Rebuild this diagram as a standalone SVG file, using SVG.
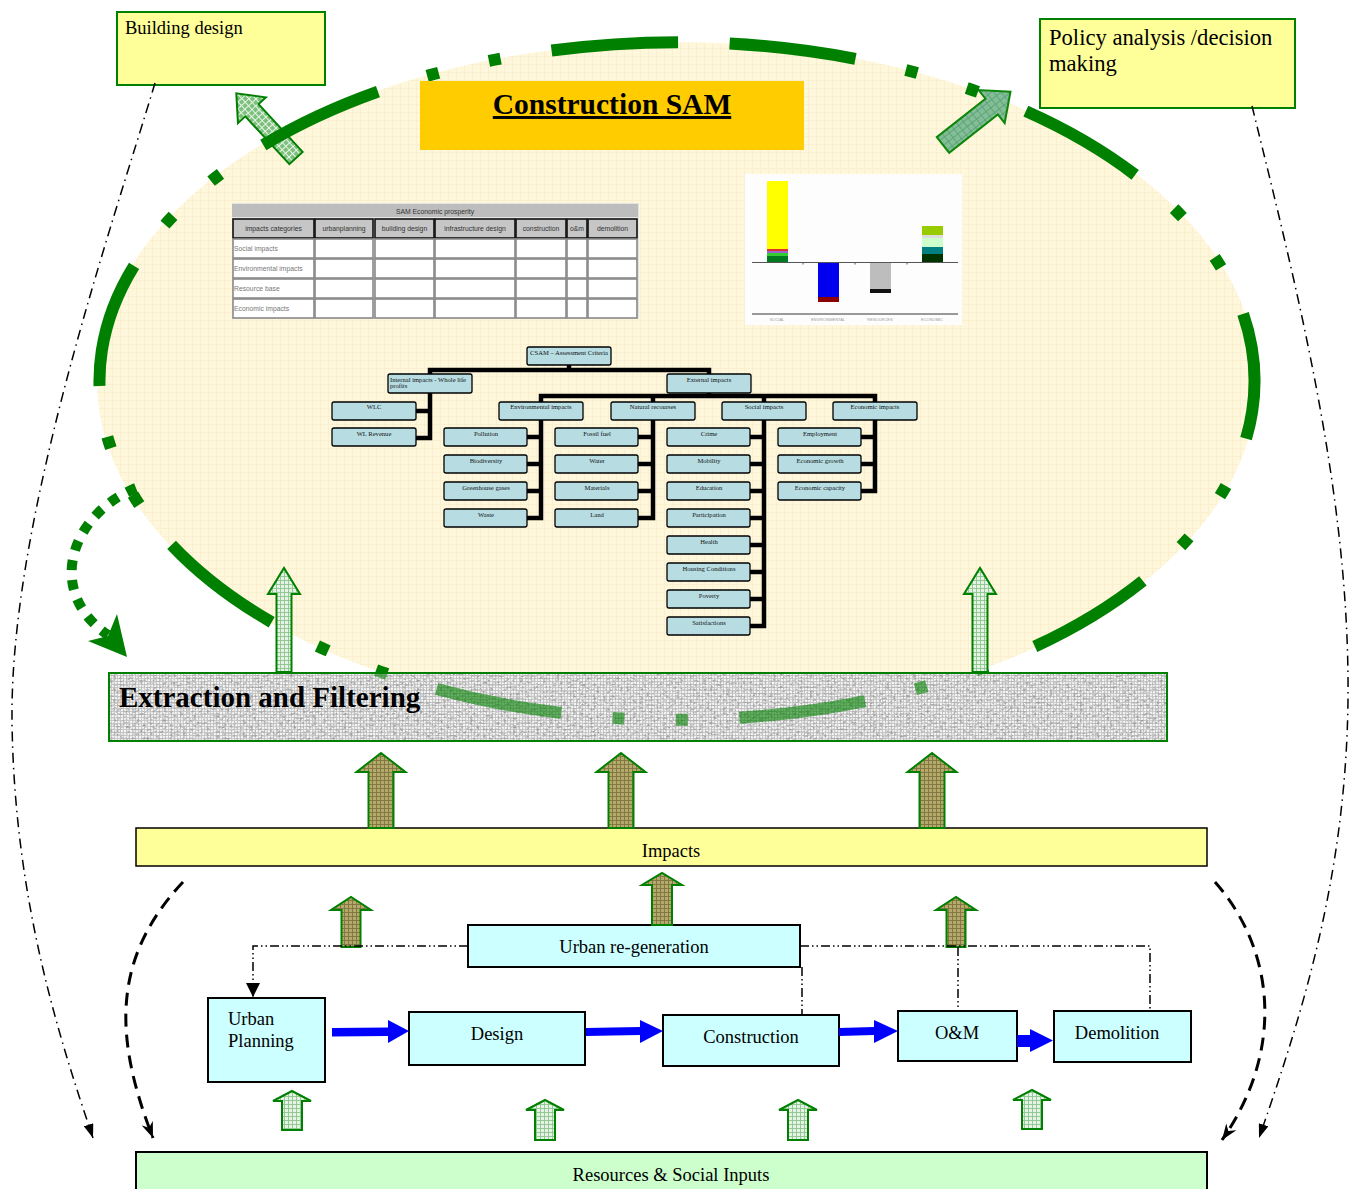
<svg xmlns="http://www.w3.org/2000/svg" width="1358" height="1189" viewBox="0 0 1358 1189">
  <defs>
    <style>
      .serif { font-family: "Liberation Serif", "Times New Roman", serif; fill: #000; }
      .sans { font-family: "Liberation Sans", Arial, sans-serif; }
      .note { fill: #ffff99; stroke: #008000; stroke-width: 2; }
      .proc { fill: #ccffff; stroke: #000; stroke-width: 2; }
      .lbl { font-size: 18.5px; }
      .tn { fill: #b7dde3; stroke: #000; stroke-width: 1.3; }
      .tt { font-family: "Liberation Serif", "Times New Roman", serif; font-size: 6.6px; text-anchor: middle; fill: #111; }
      .tt.left { text-anchor: start; }
      .tlink { fill: none; stroke: #000; stroke-width: 4.5; stroke-linejoin: miter; stroke-linecap: square; }
      .th { fill: #c6c6c6; stroke: #111; stroke-width: 1.6; }
      .td { fill: #fff; stroke: #8a8a8a; stroke-width: 1.6; }
      .tht { font-family: "Liberation Sans", Arial, sans-serif; font-size: 6.8px; fill: #333; text-anchor: middle; }
      .tdt { font-family: "Liberation Sans", Arial, sans-serif; font-size: 6.8px; fill: #777; }
      .ring { fill: none; stroke: #008000; stroke-width: 12; stroke-dasharray: 128 52 12 52 12 52; }
      .up-olive { fill: url(#hatchOlive); stroke: #008000; stroke-width: 2; }
      .up-light { fill: url(#hatchLight); stroke: #008000; stroke-width: 2; }
      .blue { fill: #0000ff; }
      .dd { fill: none; stroke: #000; stroke-width: 1.5; stroke-dasharray: 9 3 1.5 3 1.5 3; }
      .ddlong { fill: none; stroke: #000; stroke-width: 1.5; stroke-dasharray: 10 5 1.5 5; }
      .dash { fill: none; stroke: #000; stroke-width: 3; stroke-dasharray: 13 8; }
    </style>
    <pattern id="creamGrid" width="8" height="8" patternUnits="userSpaceOnUse">
      <rect width="8" height="8" fill="#fff7dc"/>
      <path d="M0 0.5H8M0.5 0V8" stroke="#faefcf" stroke-width="1"/>
    </pattern>
    <pattern id="bandWeave" width="3" height="3" patternUnits="userSpaceOnUse">
      <rect width="3" height="3" fill="#f4f4f4"/>
      <path d="M0 0.5H3M0.5 0V3" stroke="#c2c2c2" stroke-width="0.8"/>
    </pattern>
    <pattern id="hatchLight" width="4" height="4" patternUnits="userSpaceOnUse">
      <rect width="4" height="4" fill="#e6f2e6"/>
      <path d="M0 0.5H4M0.5 0V4" stroke="#8cc48c" stroke-width="0.9"/>
    </pattern>
    <pattern id="hatchMid" width="5" height="5" patternUnits="userSpaceOnUse">
      <rect width="5" height="5" fill="#7cc07c"/>
      <path d="M0 0.5H5M0.5 0V5" stroke="#e8f4e8" stroke-width="1"/>
    </pattern>
    <pattern id="hatchTeal" width="6" height="6" patternUnits="userSpaceOnUse">
      <rect width="6" height="6" fill="#7dbb94"/>
      <path d="M0 0.5H6M0.5 0V6" stroke="#4f9a6e" stroke-width="0.8"/>
    </pattern>
    <pattern id="hatchOlive" width="4" height="4" patternUnits="userSpaceOnUse">
      <rect width="4" height="4" fill="#b5aa6c"/>
      <path d="M0 0.5H4M0.5 0V4" stroke="#7d7440" stroke-width="0.9"/>
    </pattern>
    <filter id="grain" x="0" y="0" width="100%" height="100%">
      <feTurbulence type="fractalNoise" baseFrequency="0.3 0.45" numOctaves="3" seed="7"/>
      <feColorMatrix type="matrix" values="0 0 0 0 0.25  0 0 0 0 0.25  0 0 0 0 0.25  0 0 0 -2.4 1.3"/>
    </filter>
    <clipPath id="bandClip">
      <rect x="109" y="673" width="1058" height="68"/>
    </clipPath>
    <marker id="headSolid" viewBox="0 0 14 10" refX="14" refY="5" markerWidth="14" markerHeight="10" markerUnits="userSpaceOnUse" orient="auto">
      <path d="M0 0L14 5L0 10z" fill="#000"/>
    </marker>
    <marker id="headStealth" viewBox="0 0 16 12" refX="16" refY="6" markerWidth="16" markerHeight="12" markerUnits="userSpaceOnUse" orient="auto">
      <path d="M0 0L16 6L0 12L5 6z" fill="#000"/>
    </marker>
    <marker id="headDown" viewBox="0 0 14 14" refX="14" refY="7" markerWidth="14" markerHeight="14" markerUnits="userSpaceOnUse" orient="auto">
      <path d="M0 0L14 7L0 14z" fill="#000"/>
    </marker>
  </defs>

  <rect width="1358" height="1189" fill="#fff"/>

  <!-- Construction SAM ellipse body -->
  <g id="sam-body">
    <ellipse cx="677" cy="381" rx="580" ry="339" fill="url(#creamGrid)"/>
  </g>

  <!-- SAM matrix table -->
  <g id="sam-table">
    <rect x="232" y="203" width="407" height="116" fill="#e4e4e4"/>
    <rect x="232" y="204" width="406" height="13" fill="#bdbdbd"/>
    <text class="tht" x="435" y="213.5">SAM Economic prosperity</text>
    <g>
      <rect class="th" x="233" y="219" width="81" height="19"/>
      <rect class="th" x="315" y="219" width="58" height="19"/>
      <rect class="th" x="375" y="219" width="59" height="19"/>
      <rect class="th" x="435" y="219" width="80" height="19"/>
      <rect class="th" x="516" y="219" width="50" height="19"/>
      <rect class="th" x="567" y="219" width="20" height="19"/>
      <rect class="th" x="588" y="219" width="49" height="19"/>
      <text class="tht" x="273.5" y="231">impacts categories</text>
      <text class="tht" x="344" y="231">urbanplanning</text>
      <text class="tht" x="404.5" y="231">building design</text>
      <text class="tht" x="475" y="231">infrastructure design</text>
      <text class="tht" x="541" y="231">construction</text>
      <text class="tht" x="577" y="231">o&amp;m</text>
      <text class="tht" x="612.5" y="231">demolition</text>
    </g>
    <g>
      <rect class="td" x="233" y="239" width="81" height="19"/><rect class="td" x="315" y="239" width="58" height="19"/><rect class="td" x="375" y="239" width="59" height="19"/><rect class="td" x="435" y="239" width="80" height="19"/><rect class="td" x="516" y="239" width="50" height="19"/><rect class="td" x="567" y="239" width="20" height="19"/><rect class="td" x="588" y="239" width="49" height="19"/>
      <rect class="td" x="233" y="259" width="81" height="19"/><rect class="td" x="315" y="259" width="58" height="19"/><rect class="td" x="375" y="259" width="59" height="19"/><rect class="td" x="435" y="259" width="80" height="19"/><rect class="td" x="516" y="259" width="50" height="19"/><rect class="td" x="567" y="259" width="20" height="19"/><rect class="td" x="588" y="259" width="49" height="19"/>
      <rect class="td" x="233" y="279" width="81" height="19"/><rect class="td" x="315" y="279" width="58" height="19"/><rect class="td" x="375" y="279" width="59" height="19"/><rect class="td" x="435" y="279" width="80" height="19"/><rect class="td" x="516" y="279" width="50" height="19"/><rect class="td" x="567" y="279" width="20" height="19"/><rect class="td" x="588" y="279" width="49" height="19"/>
      <rect class="td" x="233" y="299" width="81" height="19"/><rect class="td" x="315" y="299" width="58" height="19"/><rect class="td" x="375" y="299" width="59" height="19"/><rect class="td" x="435" y="299" width="80" height="19"/><rect class="td" x="516" y="299" width="50" height="19"/><rect class="td" x="567" y="299" width="20" height="19"/><rect class="td" x="588" y="299" width="49" height="19"/>
      <text class="tdt" x="234" y="251">Social impacts</text>
      <text class="tdt" x="234" y="271">Environmental impacts</text>
      <text class="tdt" x="234" y="291">Resource base</text>
      <text class="tdt" x="234" y="311">Economic impacts</text>
    </g>
  </g>

  <!-- SAM impact bar chart -->
  <g id="sam-chart">
    <rect x="745" y="174" width="217" height="151" fill="#fdfdfd"/>
    <rect x="767" y="181" width="21" height="68" fill="#ffff00"/>
    <rect x="767" y="249" width="21" height="2" fill="#e03030"/>
    <rect x="767" y="251" width="21" height="2" fill="#9966cc"/>
    <rect x="767" y="253" width="21" height="3" fill="#33cc33"/>
    <rect x="767" y="256" width="21" height="6" fill="#007a1f"/>
    <rect x="818" y="262" width="21" height="35" fill="#0000ee"/>
    <rect x="818" y="297" width="21" height="5" fill="#8b0000"/>
    <rect x="870" y="262" width="21" height="27" fill="#bdbdbd"/>
    <rect x="870" y="289" width="21" height="4" fill="#111"/>
    <rect x="922" y="226" width="21" height="9" fill="#99cc00"/>
    <rect x="922" y="235" width="21" height="3" fill="#dddddd"/>
    <rect x="922" y="238" width="21" height="9" fill="#ccffcc"/>
    <rect x="922" y="247" width="21" height="7" fill="#008080"/>
    <rect x="922" y="254" width="21" height="8" fill="#003300"/>
    <path d="M752 262.5H958M803 262.5v2M855 262.5v2M907 262.5v2" stroke="#555" stroke-width="1" fill="none"/>
    <path d="M752 314H958" stroke="#999" stroke-width="2"/>
    <g class="sans" font-size="4" fill="#999" text-anchor="middle">
      <text x="777" y="321">SOCIAL</text>
      <text x="828" y="321">ENVIRONMENTAL</text>
      <text x="880" y="321">RESOURCES</text>
      <text x="932" y="321">ECONOMIC</text>
    </g>
  </g>

  <!-- Assessment criteria hierarchy: links -->
  <g id="tree-links">
    <path class="tlink" d="M430 374V370H709V374M569 365V370"/>
    <path class="tlink" d="M430 393V438H416M430 411H416"/>
    <path class="tlink" d="M709 393V396M541 402V396H875V402M653 396V402M764 396V402"/>
    <path class="tlink" d="M541 420V518H527M541 437H527M541 464H527M541 491H527"/>
    <path class="tlink" d="M653 420V518H638M653 437H638M653 464H638M653 491H638"/>
    <path class="tlink" d="M764 420V626H750M764 437H750M764 464H750M764 491H750M764 518H750M764 545H750M764 572H750M764 599H750"/>
    <path class="tlink" d="M875 420V491H861M875 437H861M875 464H861"/>
  </g>

  <!-- Assessment criteria hierarchy: nodes -->
  <g id="criteria-tree">
    <g id="t-csam"><rect class="tn" x="527" y="347" width="84" height="18" rx="2"/><text class="tt" x="569" y="355">CSAM – Assessment Criteria</text></g>
    <g id="t-internal"><rect class="tn" x="388" y="374" width="84" height="19" rx="2"/><text class="tt left" x="390" y="382">Internal impacts - Whole life</text><text class="tt left" x="390" y="388">profits</text></g>
    <g id="t-external"><rect class="tn" x="667" y="374" width="84" height="19" rx="2"/><text class="tt" x="709" y="382">External impacts</text></g>
    <g id="t-wlc"><rect class="tn" x="332" y="402" width="84" height="18" rx="2"/><text class="tt" x="374" y="409">WLC</text></g>
    <g id="t-wlrev"><rect class="tn" x="332" y="428" width="84" height="18" rx="2"/><text class="tt" x="374" y="436">WL Revenue</text></g>
    <g id="t-env"><rect class="tn" x="499" y="402" width="84" height="18" rx="2"/><text class="tt" x="541" y="409">Environmental impacts</text></g>
    <g id="t-nat"><rect class="tn" x="611" y="402" width="84" height="18" rx="2"/><text class="tt" x="653" y="409">Natural recourses</text></g>
    <g id="t-soc"><rect class="tn" x="722" y="402" width="84" height="18" rx="2"/><text class="tt" x="764" y="409">Social impacts</text></g>
    <g id="t-eco"><rect class="tn" x="833" y="402" width="84" height="18" rx="2"/><text class="tt" x="875" y="409">Economic impacts</text></g>

    <g id="t-pollution"><rect class="tn" x="444" y="428" width="83" height="18" rx="2"/><text class="tt" x="486" y="436">Pollution</text></g>
    <g id="t-biodiversity"><rect class="tn" x="444" y="455" width="83" height="18" rx="2"/><text class="tt" x="486" y="463">Biodiversity</text></g>
    <g id="t-ghg"><rect class="tn" x="444" y="482" width="83" height="18" rx="2"/><text class="tt" x="486" y="490">Greenhouse gases</text></g>
    <g id="t-waste"><rect class="tn" x="444" y="509" width="83" height="18" rx="2"/><text class="tt" x="486" y="517">Waste</text></g>

    <g id="t-fossil"><rect class="tn" x="555" y="428" width="83" height="18" rx="2"/><text class="tt" x="597" y="436">Fossil fuel</text></g>
    <g id="t-water"><rect class="tn" x="555" y="455" width="83" height="18" rx="2"/><text class="tt" x="597" y="463">Water</text></g>
    <g id="t-materials"><rect class="tn" x="555" y="482" width="83" height="18" rx="2"/><text class="tt" x="597" y="490">Materials</text></g>
    <g id="t-land"><rect class="tn" x="555" y="509" width="83" height="18" rx="2"/><text class="tt" x="597" y="517">Land</text></g>

    <g id="t-crime"><rect class="tn" x="667" y="428" width="83" height="18" rx="2"/><text class="tt" x="709" y="436">Crime</text></g>
    <g id="t-mobility"><rect class="tn" x="667" y="455" width="83" height="18" rx="2"/><text class="tt" x="709" y="463">Mobility</text></g>
    <g id="t-education"><rect class="tn" x="667" y="482" width="83" height="18" rx="2"/><text class="tt" x="709" y="490">Education</text></g>
    <g id="t-participation"><rect class="tn" x="667" y="509" width="83" height="18" rx="2"/><text class="tt" x="709" y="517">Participation</text></g>
    <g id="t-health"><rect class="tn" x="667" y="536" width="83" height="18" rx="2"/><text class="tt" x="709" y="544">Health</text></g>
    <g id="t-housing"><rect class="tn" x="667" y="563" width="83" height="18" rx="2"/><text class="tt" x="709" y="571">Housing Conditions</text></g>
    <g id="t-poverty"><rect class="tn" x="667" y="590" width="83" height="18" rx="2"/><text class="tt" x="709" y="598">Poverty</text></g>
    <g id="t-satisfactions"><rect class="tn" x="667" y="617" width="83" height="18" rx="2"/><text class="tt" x="709" y="625">Satisfactions</text></g>

    <g id="t-employment"><rect class="tn" x="778" y="428" width="83" height="18" rx="2"/><text class="tt" x="820" y="436">Employment</text></g>
    <g id="t-growth"><rect class="tn" x="778" y="455" width="83" height="18" rx="2"/><text class="tt" x="820" y="463">Economic growth</text></g>
    <g id="t-capacity"><rect class="tn" x="778" y="482" width="83" height="18" rx="2"/><text class="tt" x="820" y="490">Economic capacity</text></g>
  </g>

  <!-- arrow out to building design (sits under the ring) -->
  <g id="out-building">
    <polygon points="0,-9 65,-9 65,-19 88,0 65,19 65,9 0,9" transform="translate(296,158) rotate(-132.7)" fill="url(#hatchMid)" stroke="#008000" stroke-width="2"/>
  </g>

  <!-- dash-dot-dot ring of the SAM -->
  <g id="sam-ring">
    <path class="ring" pathLength="2952" d="M729.6 43.4A580 339 0 0 1 624.4 718.6A580 339 0 0 1 729.6 43.4Z"/>
  </g>

  <!-- SAM title -->
  <g id="sam-title">
    <rect x="420" y="81" width="384" height="69" fill="#ffcc00"/>
    <text class="serif" x="612" y="114" font-size="29.5" font-weight="bold" text-anchor="middle" text-decoration="underline">Construction SAM</text>
  </g>

  <!-- Extraction and filtering band -->
  <g id="extraction">
    <rect x="109" y="673" width="1058" height="68" fill="url(#bandWeave)"/>
    <rect x="109" y="673" width="1058" height="68" filter="url(#grain)" opacity="0.8"/>
    <path class="ring" pathLength="2952" clip-path="url(#bandClip)" opacity="0.6" d="M729.6 43.4A580 339 0 0 1 624.4 718.6A580 339 0 0 1 729.6 43.4Z"/>
    <rect x="109" y="673" width="1058" height="68" fill="none" stroke="#008000" stroke-width="2"/>
    <text class="serif" x="119" y="707" font-size="29" font-weight="bold">Extraction and Filtering</text>
  </g>

  <!-- arrow out to policy analysis -->
  <g id="out-policy">
    <polygon points="0,-10 62,-10 62,-21 86,0 62,21 62,10 0,10" transform="translate(943,145) rotate(-38.3)" fill="url(#hatchTeal)" stroke="#008000" stroke-width="2" opacity="0.95"/>
  </g>

  <!-- arrows from extraction into the SAM -->
  <g id="feed-sam">
    <polygon points="276.5,672 276.5,594 268,594 284,568 300,594 291.5,594 291.5,672" class="up-light"/>
    <polygon points="972.5,672 972.5,594 964,594 980,568 996,594 987.5,594 987.5,672" class="up-light"/>
  </g>

  <!-- Building design -->
  <g id="building-design">
    <rect class="note" x="117" y="12" width="208" height="73"/>
    <text class="serif" x="125" y="34" font-size="18.5">Building design</text>
  </g>

  <!-- Policy analysis / decision making -->
  <g id="policy">
    <rect class="note" x="1040" y="19" width="255" height="89"/>
    <text class="serif" x="1049" y="45" font-size="22.6">Policy analysis /decision</text>
    <text class="serif" x="1049" y="71" font-size="22.6">making</text>
  </g>

  <!-- Impacts -->
  <g id="impacts">
    <rect x="136" y="828" width="1071" height="38" fill="#ffff99" stroke="#000" stroke-width="1.5"/>
    <text class="serif lbl" x="671" y="857" text-anchor="middle">Impacts</text>
  </g>

  <!-- Urban re-generation -->
  <g id="regeneration">
    <rect class="proc" x="468" y="925" width="332" height="42" stroke-width="1.5"/>
    <text class="serif lbl" x="634" y="953" text-anchor="middle">Urban re-generation</text>
  </g>

  <!-- Life-cycle stages -->
  <g id="urban-planning">
    <rect class="proc" x="208" y="998" width="117" height="84"/>
    <text class="serif lbl" x="228" y="1025">Urban</text>
    <text class="serif lbl" x="228" y="1047">Planning</text>
  </g>
  <g id="design">
    <rect class="proc" x="409" y="1012" width="176" height="53"/>
    <text class="serif lbl" x="497" y="1040" text-anchor="middle">Design</text>
  </g>
  <g id="construction">
    <rect class="proc" x="663" y="1015" width="176" height="51"/>
    <text class="serif lbl" x="751" y="1043" text-anchor="middle">Construction</text>
  </g>
  <g id="om">
    <rect class="proc" x="898" y="1011" width="119" height="50"/>
    <text class="serif lbl" x="957" y="1039" text-anchor="middle">O&amp;M</text>
  </g>
  <g id="demolition">
    <rect class="proc" x="1054" y="1011" width="137" height="51"/>
    <text class="serif lbl" x="1117" y="1039" text-anchor="middle">Demolition</text>
  </g>

  <!-- Resources & Social Inputs -->
  <g id="resources">
    <rect x="136" y="1152" width="1071" height="45" fill="#ccffcc" stroke="#000" stroke-width="2"/>
    <text class="serif lbl" x="671" y="1181" text-anchor="middle">Resources &amp; Social Inputs</text>
  </g>

  <!-- connectors -->
  <g id="connectors">
    <!-- impacts feeding extraction -->
    <polygon class="up-olive" points="368.5,828 368.5,772 356.5,772 381,753 405.5,772 393.5,772 393.5,828"/>
    <polygon class="up-olive" points="608.5,828 608.5,772 596.5,772 621,753 645.5,772 633.5,772 633.5,828"/>
    <polygon class="up-olive" points="919.5,828 919.5,772 907.5,772 932,753 956.5,772 944.5,772 944.5,828"/>

    <!-- process stages feeding impacts -->
    <polygon class="up-olive" points="341.5,947 341.5,910 331,910 351,897 371,910 360.5,910 360.5,947"/>
    <polygon class="up-olive" points="652,925 652,885 642,885 662,873 682,885 672,885 672,925"/>
    <polygon class="up-olive" points="946.5,947 946.5,910 936,910 956,897 976,910 965.5,910 965.5,947"/>

    <!-- resources feeding stages -->
    <polygon class="up-light" points="282,1130 282,1101 273,1101 292,1091 311,1101 302,1101 302,1130"/>
    <polygon class="up-light" points="535,1140 535,1110 526,1110 545,1100 564,1110 555,1110 555,1140"/>
    <polygon class="up-light" points="788,1140 788,1110 779,1110 798,1100 817,1110 808,1110 808,1140"/>
    <polygon class="up-light" points="1022,1129 1022,1100 1013,1100 1032,1090 1051,1100 1042,1100 1042,1129"/>

    <!-- life-cycle sequence -->
    <polygon class="blue" points="332,1028 388,1027.5 388,1020 409,1031 388,1043 388,1036 332,1036.5"/>
    <polygon class="blue" points="586,1028 640,1027 640,1020 663,1031 640,1043 640,1035 586,1036"/>
    <polygon class="blue" points="839,1028 874,1027 874,1020 898,1031 874,1043 874,1035 839,1036"/>
    <polygon class="blue" points="1017,1035 1030,1035 1030,1029 1053,1040.5 1030,1052 1030,1047 1017,1047"/>

    <!-- regeneration links -->
    <path class="dd" d="M468 946H253V997" marker-end="url(#headDown)"/>
    <path class="dd" d="M800 946H1150V1010"/>
    <path class="dd" d="M802 967V1014"/>
    <path class="dd" d="M958 947V1010"/>

    <!-- feedback loops to resources -->
    <path class="ddlong" d="M155 83C110 233 10 520 12 720C14 900 60 1040 93 1138" marker-end="url(#headSolid)"/>
    <path class="ddlong" d="M1252 106C1300 300 1350 500 1348 700C1346 880 1300 1020 1259 1138" marker-end="url(#headSolid)"/>
    <path class="dash" d="M183 882C110 960 115 1040 153 1138" marker-end="url(#headStealth)"/>
    <path class="dash" d="M1215 882C1275 950 1285 1050 1222 1140" marker-end="url(#headStealth)"/>

    <!-- SAM output routed into extraction -->
    <path d="M136 488C70 515 45 592 108 635" fill="none" stroke="#008000" stroke-width="10" stroke-dasharray="10 10"/>
    <polygon points="127,657 88,641 108,636 117,614" fill="#008000"/>
  </g>
</svg>
